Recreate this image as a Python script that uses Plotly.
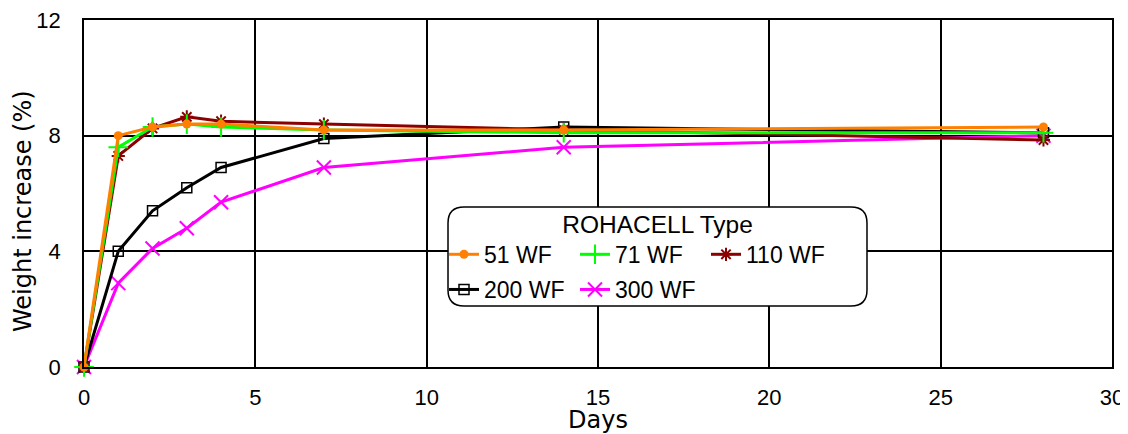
import plotly.graph_objects as go

days = [0, 1, 2, 3, 4, 7, 14, 28]
series_names = ["51 WF", "71 WF", "110 WF", "200 WF", "300 WF"]
wf51 = [0, 8.0, 8.3, 8.4, 8.4, 8.2, 8.2, 8.3]
wf71 = [0, 7.6, 8.3, 8.4, 8.3, 8.2, 8.1, 8.1]
wf110 = [0, 7.3, 8.25, 8.65, 8.5, 8.4, 8.2, 7.85]
wf200 = [0, 4.0, 5.4, 6.2, 6.9, 7.9, 8.3, 8.1]
wf300 = [0, 2.9, 4.1, 4.8, 5.7, 6.9, 7.6, 8.0]

x_ticks = [0, 5, 10, 15, 20, 25, 30]
y_ticks = [0, 4, 8, 12]

styles = {
    "51 WF": dict(color="#FF8000", symbol="circle", size=9, lw=0, legend="legend"),
    "71 WF": dict(color="#00FF00", symbol="cross-thin-open", size=14, lw=2, legend="legend"),
    "110 WF": dict(color="#8B0000", symbol="asterisk-open", size=11, lw=2, legend="legend"),
    "200 WF": dict(color="#000000", symbol="square-open", size=10, lw=1.5, legend="legend2"),
    "300 WF": dict(color="#FF00FF", symbol="x-thin-open", size=14, lw=2, legend="legend2"),
}
values = {"51 WF": wf51, "71 WF": wf71, "110 WF": wf110, "200 WF": wf200, "300 WF": wf300}

fig = go.Figure()
# draw in reverse so 51 WF is on top; legend order kept with legendrank
for rank, name in reversed(list(enumerate(series_names))):
    s = styles[name]
    fig.add_trace(go.Scatter(
        x=days, y=values[name], name=name, mode="lines+markers",
        line=dict(color=s["color"], width=3),
        marker=dict(symbol=s["symbol"], size=s["size"], color=s["color"],
                    line=dict(color=s["color"], width=s["lw"])),
        cliponaxis=False, legendrank=rank + 1, legend=s["legend"],
    ))

# page offset (body margin of the html page)
OFF = 8
FW, FH = 1128 - OFF, 434 - OFF
# plot area geometry in page pixels
L, R, T, B = 84, 1112, 20, 367
W, H = R - L, B - T

def px2paper(px, py):
    return (px - L) / W, (B - py) / H

def rounded_rect(x0, y0, x1, y1, r):
    def P(px, py):
        a, b = px2paper(px, py)
        return f"{a:.5f},{b:.5f}"
    return (f"M {P(x0 + r, y0)} L {P(x1 - r, y0)} Q {P(x1, y0)} {P(x1, y0 + r)} "
            f"L {P(x1, y1 - r)} Q {P(x1, y1)} {P(x1 - r, y1)} "
            f"L {P(x0 + r, y1)} Q {P(x0, y1)} {P(x0, y1 - r)} "
            f"L {P(x0, y0 + r)} Q {P(x0, y0)} {P(x0 + r, y0)} Z")

fig.add_shape(type="path", xref="paper", yref="paper",
              path=rounded_rect(448, 207, 867, 306, 16),
              fillcolor="white", line=dict(color="black", width=1.5), layer="above")

leg_font = dict(size=23, family="Liberation Sans, Arial, sans-serif", color="black")
l1x, l1y = px2paper(444, 201)
l2x, l2y = px2paper(444, 268)
common = dict(xanchor="left", yanchor="top", orientation="h",
              entrywidth=86, entrywidthmode="pixels",
              bgcolor="rgba(0,0,0,0)", borderwidth=0, font=leg_font, itemwidth=30)

ytx, yty = px2paper(23, 211)
fig.add_annotation(text="Weight increase (%)", xref="paper", yref="paper",
                   x=ytx, y=yty, xanchor="center", yanchor="middle", textangle=-90,
                   showarrow=False, font=dict(family="DejaVu Sans", size=24, color="black"))

fig.update_layout(
    width=FW, height=FH,
    margin=dict(l=L - OFF, r=1128 - R, t=T - OFF, b=434 - B),
    paper_bgcolor="white", plot_bgcolor="white",
    font=dict(family="Liberation Sans, Arial, sans-serif", size=22, color="black"),
    showlegend=True,
    legend=dict(x=l1x, y=l1y,
                title=dict(text="\u00a0" * 5 + "ROHACELL Type", side="top center",
                           font=dict(size=24.5, family="Liberation Sans, Arial, sans-serif",
                                     color="black")),
                **common),
    legend2=dict(x=l2x, y=l2y, **common),
    xaxis=dict(
        range=[0, 30], tickvals=x_ticks, showgrid=True, gridcolor="black", gridwidth=1.5,
        showline=True, linecolor="black", linewidth=1.5, mirror=True, zeroline=False,
        ticks="", ticklabelstandoff=10, automargin=False, ticklabeloverflow="allow",
        title=dict(text="Days", font=dict(family="DejaVu Sans", size=24), standoff=0),
    ),
    yaxis=dict(
        range=[0, 12], tickvals=y_ticks, showgrid=True, gridcolor="black", gridwidth=1.5,
        showline=True, linecolor="black", linewidth=1.5, mirror=True, zeroline=False,
        ticks="", ticklabelstandoff=17, automargin=False, ticklabeloverflow="allow",
    ),
)

fig.write_html("out.html")
